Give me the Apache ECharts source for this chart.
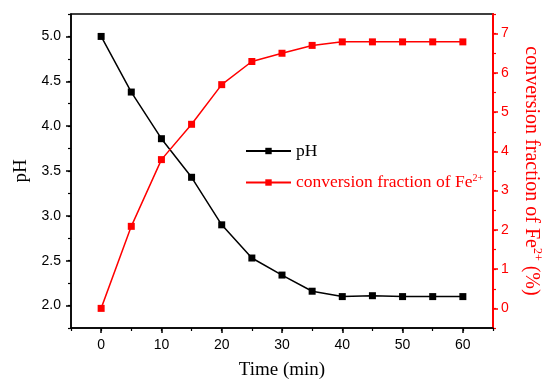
<!DOCTYPE html>
<html><head><meta charset="utf-8">
<script src="https://cdn.jsdelivr.net/npm/echarts@6/dist/echarts.min.js"></script>
<style>html,body{margin:0;padding:0;background:#fff}#c{width:544px;height:382px}</style>
</head><body><div id="c"></div>
<script>
var time = [0, 5, 10, 15, 20, 25, 30, 35, 40, 45, 50, 55, 60];
var pH = [5.00, 4.38, 3.86, 3.43, 2.90, 2.53, 2.34, 2.16, 2.10, 2.11, 2.10, 2.10, 2.10];
var conv = [0.00, 2.09, 3.79, 4.69, 5.70, 6.29, 6.50, 6.70, 6.79, 6.79, 6.79, 6.79, 6.79];
var xTicks = [0, 10, 20, 30, 40, 50, 60];
var pHTicks = [2.0, 2.5, 3.0, 3.5, 4.0, 4.5, 5.0];
var convTicks = [0, 1, 2, 3, 4, 5, 6, 7];
var nameA = 'pH';
var nameB = 'conversion fraction of Fe2+';

var RED = '#ff0000';
var serif = 'Liberation Serif';
var sans = 'Liberation Sans';
function pairs(xs, ys){ return xs.map(function(x,i){ return [x, ys[i]]; }); }

var chart = echarts.init(document.getElementById('c'));
chart.setOption({
  animation: false,
  grid: {left: 71, right: 51, top: 14, bottom: 54, containLabel: false, outerBoundsMode: 'none', show: true, borderColor: '#000', borderWidth: 1.5, backgroundColor: 'transparent'},
  legend: {
    orient: 'vertical', left: 240, top: 137, itemWidth: 45, itemHeight: 8, itemGap: 13,
    textStyle: {fontFamily: serif, fontSize: 17.5, rich: {sup: {fontSize: 10, fontFamily: serif, padding: [0,0,9,0], color: RED}}},
    formatter: function(n){ return n === nameB ? 'conversion fraction of Fe{sup|2+}' : n; },
    data: [{name: nameA, textStyle: {color: '#000'}}, {name: nameB, textStyle: {color: RED}}]
  },
  xAxis: [{
    type: 'value', min: -5, max: 65, interval: 5, position: 'bottom',
    name: 'Time (min)', nameLocation: 'middle', nameGap: 33,
    nameTextStyle: {fontFamily: serif, fontSize: 19, color: '#000'},
    axisLine: {onZero: false, lineStyle: {color: '#000', width: 1.5}},
    axisTick: {show: true, inside: false, length: 5, customValues: xTicks, lineStyle: {color: '#000', width: 1.5}},
    axisLabel: {customValues: xTicks, margin: 10, fontFamily: sans, fontSize: 14, color: '#000'},
    splitLine: {show: false}
  }, {
    type: 'value', min: -5, max: 65, interval: 5, position: 'bottom',
    axisLine: {show: false, onZero: false},
    axisTick: {show: true, length: 3, lineStyle: {color: '#000', width: 1.2}},
    axisLabel: {show: false}, splitLine: {show: false}
  }],
  yAxis: [{
    type: 'value', min: 1.75, max: 5.25, interval: 0.25, position: 'left',
    name: 'pH', nameLocation: 'middle', nameGap: 36, nameRotate: 90,
    nameTextStyle: {fontFamily: serif, fontSize: 19, color: '#000'},
    axisLine: {show: true, onZero: false, lineStyle: {color: '#000', width: 1.5}},
    axisTick: {show: true, length: 5, customValues: pHTicks, lineStyle: {color: '#000', width: 1.5}},
    axisLabel: {customValues: pHTicks, margin: 10, fontFamily: sans, fontSize: 14, color: '#000', formatter: function(v){ return v.toFixed(1); }},
    splitLine: {show: false}
  }, {
    type: 'value', min: 1.75, max: 5.25, interval: 0.25, position: 'left',
    axisLine: {show: false, onZero: false},
    axisTick: {show: true, length: 3, lineStyle: {color: '#000', width: 1.2}},
    axisLabel: {show: false}, splitLine: {show: false}
  }, {
    type: 'value', min: -0.5, max: 7.5, interval: 0.5, position: 'right',
    name: 'conversion fraction of Fe{sup|2+} (%)', nameLocation: 'middle', nameGap: 27, nameRotate: -90,
    nameTextStyle: {fontFamily: serif, fontSize: 20, color: RED, rich: {sup: {fontSize: 12, fontFamily: serif, color: RED, padding: [0,0,11,0]}}},
    axisLine: {show: true, onZero: false, lineStyle: {color: RED, width: 2}},
    axisTick: {show: true, length: 5, customValues: convTicks, lineStyle: {color: RED, width: 1.5}},
    axisLabel: {customValues: convTicks, margin: 8, fontFamily: sans, fontSize: 14, color: RED},
    splitLine: {show: false}
  }, {
    type: 'value', min: -0.5, max: 7.5, interval: 0.5, position: 'right',
    axisLine: {show: false, onZero: false},
    axisTick: {show: true, length: 3, lineStyle: {color: RED, width: 1.2}},
    axisLabel: {show: false}, splitLine: {show: false}
  }],
  series: [{
    name: nameA, type: 'line', xAxisIndex: 0, yAxisIndex: 0,
    data: pairs(time, pH), symbol: 'rect', symbolSize: 7,
    itemStyle: {color: '#000'}, lineStyle: {color: '#000', width: 1.5}
  }, {
    name: nameB, type: 'line', xAxisIndex: 0, yAxisIndex: 2,
    data: pairs(time, conv), symbol: 'rect', symbolSize: 7,
    itemStyle: {color: RED}, lineStyle: {color: RED, width: 1.5}
  }]
});
</script></body></html>
